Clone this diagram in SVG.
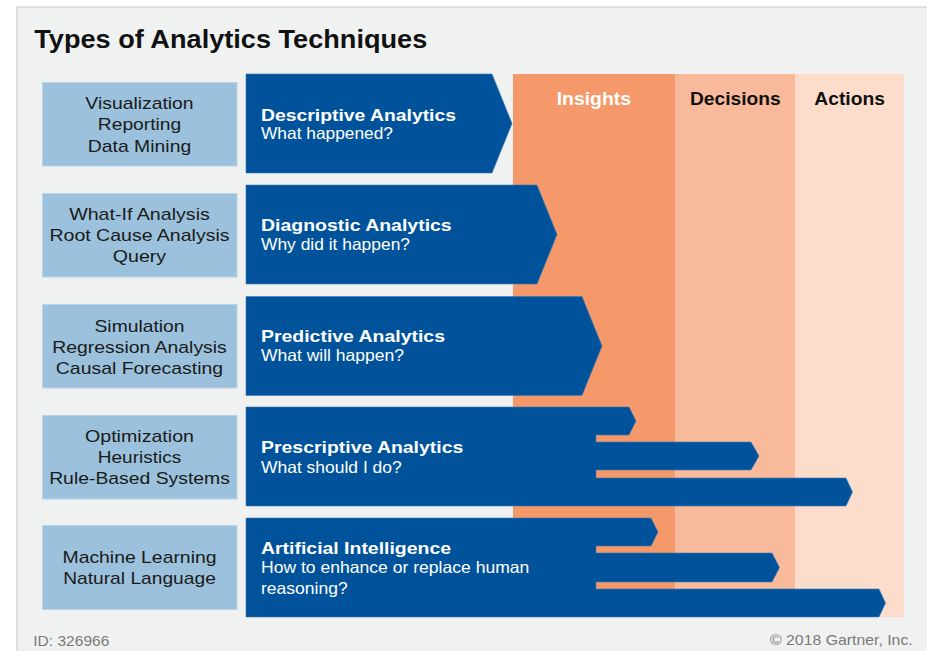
<svg xmlns="http://www.w3.org/2000/svg" width="927" height="651" viewBox="0 0 927 651">
<style>
.t{font-family:"Liberation Sans",Arial,sans-serif;}
.box{fill:#9bc1dc;stroke:#b9d4e8;stroke-width:1;}
.arr{fill:#00539b;stroke:#3a78b4;stroke-width:0.6;}
.lt{font-size:17px;fill:#1a1a1a;text-anchor:middle;}
.ht{font-size:17px;font-weight:bold;fill:#ffffff;}
.st{font-size:16.5px;fill:#ffffff;}
.col{font-size:17.5px;font-weight:bold;}
.ft{font-size:15px;fill:#7a7a7a;}
</style>
<rect x="0" y="0" width="927" height="651" fill="#ffffff"/>
<rect x="17" y="7" width="912" height="646" fill="#f0f1f1" stroke="#cfd0d0" stroke-width="1.2"/>
<text class="t" x="34.3" y="48.3" font-size="25" font-weight="bold" fill="#111111" textLength="393" lengthAdjust="spacingAndGlyphs">Types of Analytics Techniques</text>

<g id="columns">
<rect x="513" y="74" width="162" height="543" fill="#f5986a"/>
<rect x="675" y="74" width="120" height="543" fill="#f9b99b"/>
<rect x="795" y="74" width="109" height="543" fill="#fcdccb"/>
<text class="t col" x="556.7" y="105" fill="#ffffff" textLength="74.3" lengthAdjust="spacingAndGlyphs">Insights</text>
<text class="t col" x="690" y="105" fill="#111111" textLength="90.7" lengthAdjust="spacingAndGlyphs">Decisions</text>
<text class="t col" x="814.3" y="105" fill="#111111" textLength="70.7" lengthAdjust="spacingAndGlyphs">Actions</text>
</g>

<g id="techniques-descriptive">
<rect class="box" x="42.5" y="82.5" width="194.5" height="83.5"/>
<text class="t lt" x="139.5" y="109" textLength="108.3" lengthAdjust="spacingAndGlyphs">Visualization</text>
<text class="t lt" x="139.5" y="130" textLength="83.4" lengthAdjust="spacingAndGlyphs">Reporting</text>
<text class="t lt" x="139.5" y="151.5" textLength="103.4" lengthAdjust="spacingAndGlyphs">Data Mining</text>
</g>
<g id="descriptive">
<path class="arr" d="M246,74 H492 L512,123.5 L492,173 H246 Z"/>
<text class="t ht" x="261" y="120.5" textLength="195" lengthAdjust="spacingAndGlyphs">Descriptive Analytics</text>
<text class="t st" x="261" y="139.3" textLength="132" lengthAdjust="spacingAndGlyphs">What happened?</text>
</g>

<g id="techniques-diagnostic">
<rect class="box" x="42.5" y="193.5" width="194.5" height="83.5"/>
<text class="t lt" x="139.5" y="220" textLength="140.7" lengthAdjust="spacingAndGlyphs">What-If Analysis</text>
<text class="t lt" x="139.5" y="241" textLength="180" lengthAdjust="spacingAndGlyphs">Root Cause Analysis</text>
<text class="t lt" x="139.5" y="262" textLength="53.3" lengthAdjust="spacingAndGlyphs">Query</text>
</g>
<g id="diagnostic">
<path class="arr" d="M246,185 H537 L557,234.5 L537,284 H246 Z"/>
<text class="t ht" x="261" y="231" textLength="190.7" lengthAdjust="spacingAndGlyphs">Diagnostic Analytics</text>
<text class="t st" x="261" y="250" textLength="149" lengthAdjust="spacingAndGlyphs">Why did it happen?</text>
</g>

<g id="techniques-predictive">
<rect class="box" x="42.5" y="304.5" width="194.5" height="83.5"/>
<text class="t lt" x="139.5" y="331.5" textLength="90" lengthAdjust="spacingAndGlyphs">Simulation</text>
<text class="t lt" x="139.5" y="352.5" textLength="174.6" lengthAdjust="spacingAndGlyphs">Regression Analysis</text>
<text class="t lt" x="139.5" y="373.5" textLength="167.3" lengthAdjust="spacingAndGlyphs">Causal Forecasting</text>
</g>
<g id="predictive">
<path class="arr" d="M246,296.5 H582 L602,346 L582,395.5 H246 Z"/>
<text class="t ht" x="261" y="342" textLength="184" lengthAdjust="spacingAndGlyphs">Predictive Analytics</text>
<text class="t st" x="261" y="361" textLength="143" lengthAdjust="spacingAndGlyphs">What will happen?</text>
</g>

<g id="techniques-prescriptive">
<rect class="box" x="42.5" y="415.5" width="194.5" height="83.5"/>
<text class="t lt" x="139.5" y="442" textLength="109" lengthAdjust="spacingAndGlyphs">Optimization</text>
<text class="t lt" x="139.5" y="463" textLength="83.4" lengthAdjust="spacingAndGlyphs">Heuristics</text>
<text class="t lt" x="139.5" y="484" textLength="180.7" lengthAdjust="spacingAndGlyphs">Rule-Based Systems</text>
</g>
<g id="prescriptive">
<path class="arr" d="M246,407 H629 L636,421 L629,435 H596 V442 H751 L759,456 L751,470 H596 V478 H846 L852.5,492 L846,506 H246 Z"/>
<text class="t ht" x="261" y="452.5" textLength="202.3" lengthAdjust="spacingAndGlyphs">Prescriptive Analytics</text>
<text class="t st" x="261" y="472.5" textLength="140.7" lengthAdjust="spacingAndGlyphs">What should I do?</text>
</g>

<g id="techniques-ai">
<rect class="box" x="42.5" y="525.5" width="194.5" height="84"/>
<text class="t lt" x="139.5" y="563.3" textLength="154" lengthAdjust="spacingAndGlyphs">Machine Learning</text>
<text class="t lt" x="139.5" y="584" textLength="152.7" lengthAdjust="spacingAndGlyphs">Natural Language</text>
</g>
<g id="ai">
<path class="arr" d="M246,518 H651 L658,532 L651,546 H596 V553 H772 L779.5,567.5 L772,582 H596 V589 H879 L885.5,603 L879,617 H246 Z"/>
<text class="t ht" x="261" y="553.5" textLength="190" lengthAdjust="spacingAndGlyphs">Artificial Intelligence</text>
<text class="t st" x="261" y="573" textLength="268.3" lengthAdjust="spacingAndGlyphs">How to enhance or replace human</text>
<text class="t st" x="261" y="593.5" textLength="86.7" lengthAdjust="spacingAndGlyphs">reasoning?</text>
</g>

<g id="connectors"></g>

<text class="t ft" x="33.3" y="645.5" textLength="76" lengthAdjust="spacingAndGlyphs">ID: 326966</text>
<text class="t ft" x="770" y="645" textLength="142.7" lengthAdjust="spacingAndGlyphs">© 2018 Gartner, Inc.</text>
</svg>
